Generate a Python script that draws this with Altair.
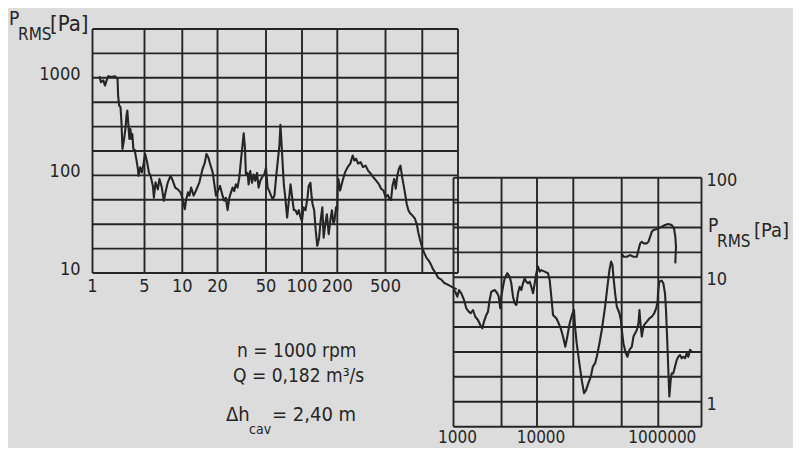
import altair as alt
import pandas as pd

# ---------------- data ----------------
left_xgrid = [1, 5, 10, 20, 50, 100, 200, 500, 1000, 2000]
left_ygrid = [10, 17.78, 31.62, 56.23, 100, 177.8, 316.2, 562.3, 1000, 1778, 3162.3]
right_xgrid = [1000, 3760, 10000, 39700, 249000, 1000000, 5000000]
right_ygrid = [0.631, 1, 1.585, 2.512, 3.981, 6.31, 10, 17.78, 31.62, 56.23, 100]

left_xticks = [1, 5, 10, 20, 50, 100, 200, 500]
left_xlabels = ["1", "5", "10", "20", "50", "100", "200", "500"]
left_yticks = [1000, 100, 10]
left_ylabels = ["1000", "100", "10"]
right_xticks = [1000, 10000, 1000000]
right_xlabels = ["1000", "10000", "1000000"]
right_yticks = [100, 10, 1]
right_ylabels = ["100", "10", "1"]

# spectrum, left panel (frequency, P_RMS)
left_curve_a = [
    (1.24, 1040), (1.30, 902), (1.40, 940), (1.47, 833), (1.55, 940), (1.63, 1040),
    (1.81, 1016), (2.0, 1040), (2.17, 977), (2.21, 658), (2.28, 520), (2.38, 500),
    (2.45, 351), (2.53, 187), (2.66, 236), (2.77, 299), (2.86, 410), (2.94, 462),
    (3.04, 324), (3.13, 236), (3.23, 299), (3.33, 236), (3.43, 266), (3.54, 187),
    (3.68, 184), (3.88, 147), (4.08, 116), (4.16, 99), (4.38, 121), (4.61, 107),
    (4.85, 131), (5.06, 166), (5.25, 136), (5.42, 107), (5.59, 99), (5.83, 78),
    (5.94, 59), (6.12, 85), (6.39, 72), (6.58, 92), (6.87, 75), (7.13, 55),
    (7.44, 72), (7.67, 85), (8.05, 99), (8.41, 88), (8.78, 75), (9.21, 72),
    (9.68, 67), (10.1, 57), (10.5, 45), (10.8, 57), (11.2, 67), (11.5, 62),
    (11.9, 75), (12.5, 62), (13.1, 70), (14.0, 85), (14.9, 116), (15.6, 136),
    (16.1, 166), (16.7, 153), (17.3, 131), (18.2, 107), (18.7, 85), (19.4, 62),
]
left_curve_b = [
    (21.0, 78), (22.0, 62), (22.7, 55), (23.4, 59), (24.2, 44), (25.0, 59),
    (25.8, 67), (26.6, 75), (27.4, 69), (28.3, 81), (29.2, 75), (30.2, 95),
    (31.1, 140), (32.1, 206), (32.8, 270), (33.6, 191), (34.2, 102), (35.3, 106),
    (36.0, 81), (37.1, 111), (38.4, 84), (39.6, 102), (40.8, 88), (42.2, 106),
    (43.5, 75), (44.9, 88), (46.9, 98), (48.4, 102), (50, 120), (51.6, 75),
    (53.3, 69), (55.1, 62), (56.9, 57), (58.8, 62), (60.7, 95), (62.7, 140),
    (64.8, 206), (66.0, 329), (67.3, 223), (68.7, 140), (70.5, 81), (72.7, 57),
    (75.1, 37), (77.6, 55), (80.2, 81), (82.8, 59), (85.5, 44), (88.3, 44),
    (91.2, 40), (94.2, 44), (97.3, 37), (100, 34), (103, 47), (107, 44),
    (111, 57), (114, 78), (118, 84), (121, 59), (123, 51), (127, 44),
    (131, 27), (135, 19), (140, 23), (144, 34), (149, 47), (153, 23),
    (158, 32), (163, 40), (169, 25), (174, 34), (180, 44), (185, 32),
    (189, 34), (195, 47), (200, 44),
]
left_curve_c = [
    (201, 68), (204, 92), (211, 70), (220, 86), (232, 108), (244, 122),
    (256, 132), (268, 160), (277, 142), (286, 148), (297, 132), (311, 137),
    (326, 122), (343, 126), (359, 112), (378, 104), (396, 96), (417, 89),
    (439, 82), (460, 73), (481, 70), (500, 60), (522, 63), (538, 58),
    (555, 56), (571, 79), (589, 92), (607, 73), (625, 100), (644, 117),
    (663, 126), (684, 96), (704, 79), (726, 63), (748, 50), (770, 44),
    (794, 41), (828, 39), (871, 36), (905, 31), (927, 26), (957, 22),
    (1000, 18), (1040, 16), (1088, 14.2), (1138, 13.3), (1183, 12.2), (1238, 10.8),
    (1296, 10), (1365, 8.9), (1438, 8.6), (1535, 7.9), (1637, 7.6), (1746, 7.3),
    (1862, 7.0), (1950, 6.8),
]

# spectrum, right panel
right_curve = [
    (1000, 7.9), (1051, 7.66), (1111, 6.98), (1164, 7.9), (1240, 7.44), (1336, 6.58),
    (1423, 5.64), (1520, 5.29), (1606, 5.14), (1713, 5.46), (1825, 4.82), (1964, 4.54),
    (2094, 4.14), (2213, 3.89), (2317, 4.40), (2471, 4.98), (2588, 5.29), (2711, 6.58),
    (2837, 7.66), (3112, 7.9), (3347, 7.44), (3477, 6.98), (3634, 5.64), (3735, 6.98),
    (3915, 8.4), (4100, 9.8), (4406, 11.0), (4709, 10.1), (4922, 8.95), (5160, 6.98),
    (5409, 6.18), (5655, 5.99), (5919, 7.44), (6201, 8.4), (6486, 7.9), (6796, 8.95),
    (7120, 9.8), (7449, 9.22), (7804, 8.95), (8175, 9.22), (8551, 8.4), (8966, 7.44),
    (9393, 8.95), (9820, 11.0), (10380, 12.8), (11090, 11.4), (11780, 11.8), (13400, 11.4),
    (15180, 11.0), (16190, 9.5), (17210, 6.98), (18370, 4.98), (19590, 4.82), (20800, 4.68),
    (22190, 4.40), (24600, 3.89), (26850, 3.34), (29300, 2.77), (31620, 3.34), (34600, 4.27),
    (37760, 4.98), (40740, 5.46), (42400, 4.01), (45160, 2.94), (49890, 2.04), (54660, 1.49),
    (59720, 1.17), (64400, 1.24), (70300, 1.41), (77100, 1.59), (83200, 1.91), (90800, 2.04),
    (96800, 2.30), (106900, 2.94), (117000, 3.77), (132700, 5.81), (144900, 8.4), (156400, 11.8),
    (166700, 14.4), (175400, 13.3), (182100, 10.1), (194200, 7.44), (207000, 5.81), (228600, 5.14),
    (241000, 4.54), (250400, 3.77), (266300, 2.94), (291500, 2.45), (309800, 2.30), (334300, 2.61),
    (366300, 2.77), (389300, 3.34), (415000, 3.55), (442600, 3.77), (470700, 4.27), (488700, 5.46),
    (508000, 4.27), (535400, 3.34), (556000, 3.77), (584600, 4.14), (647400, 4.40), (714500, 4.68),
    (783300, 4.82), (856400, 5.14), (924700, 5.64), (972700, 6.37), (997000, 7.9), (1038000, 9.22),
    (1135000, 9.4), (1205000, 8.95), (1283000, 7.44), (1333000, 5.46), (1400000, 2.94), (1453000, 1.80),
    (1508000, 1.10), (1586000, 1.49), (1648000, 1.69), (1750000, 1.69), (1863000, 1.91), (1985000, 2.16),
    (2108000, 2.30), (2245000, 2.37), (2392000, 2.23), (2541000, 2.30), (2705000, 2.23), (2882000, 2.45),
    (3060000, 2.30), (3260000, 2.61), (3470000, 2.53),
]
right_upper = [
    (250400, 17.4), (266300, 16.1), (302700, 16.1), (343000, 16.7), (389300, 16.1),
    (442600, 16.1), (470700, 18.8), (502300, 21.9), (535400, 22.8), (569000, 21.9),
    (647400, 21.9), (688600, 22.8), (734500, 25.6), (783300, 28.7), (832000, 29.8),
    (924700, 30.3), (1000000, 31.0), (1135000, 32.2), (1283000, 33.5), (1453000, 34.3),
    (1648000, 33.5), (1795000, 31.0), (1884000, 25.6), (1932000, 20.3), (1884000, 13.8),
]

texts = {
    "p": "P", "rms": "RMS", "pa": "[Pa]",
    "n": "n = 1000 rpm", "q": "Q = 0,182 m³/s",
    "dh": "Δh", "cav": "cav", "h": "= 2,40 m",
}

# ---------------- style ----------------
INK = "#252525"
PAPER = "#dcdcdc"
FONT = "'DejaVu Sans Condensed', 'DejaVu Sans', sans-serif"

LX = alt.Scale(type="log", domain=left_xgrid,
               range=[84.5, 136.5, 174.3, 209.5, 258, 294, 329.3, 377.5, 414.3, 450], nice=False)
LY = alt.Scale(type="log", domain=[10, 3162.3], range=[265, 21], nice=False)
RX = alt.Scale(type="log", domain=[1000, 10000, 1000000, 5000000],
               range=[445.5, 529, 650.3, 693.5], nice=False)
RY = alt.Scale(type="log", domain=[0.631, 1, 10, 100],
               range=[418.7, 393.7, 269.3, 169.7], nice=False)


def curve_df(pairs):
    return pd.DataFrame({"f": [p[0] for p in pairs], "p": [p[1] for p in pairs],
                         "i": list(range(len(pairs)))})


def vrules(vals, y0, y1, sx, sy):
    df = pd.DataFrame({"v": vals, "a": y0, "b": y1})
    return alt.Chart(df).mark_rule(color=INK, strokeWidth=1.9).encode(
        x=alt.X("v:Q", scale=sx, axis=None),
        y=alt.Y("a:Q", scale=sy, axis=None),
        y2="b:Q",
    )


def hrules(vals, x0, x1, sx, sy):
    df = pd.DataFrame({"v": vals, "a": x0, "b": x1})
    return alt.Chart(df).mark_rule(color=INK, strokeWidth=1.9).encode(
        y=alt.Y("v:Q", scale=sy, axis=None),
        x=alt.X("a:Q", scale=sx, axis=None),
        x2="b:Q",
    )


def line(pairs, sx, sy):
    return alt.Chart(curve_df(pairs)).mark_line(color=INK, strokeWidth=2.1,
                                                strokeJoin="round").encode(
        x=alt.X("f:Q", scale=sx, axis=None),
        y=alt.Y("p:Q", scale=sy, axis=None),
        order="i:Q",
    )


def ticklabels(xs, ys, labels, sx, sy, size=18, **kw):
    df = pd.DataFrame({"x": xs, "y": ys, "t": labels})
    return alt.Chart(df).mark_text(font=FONT, fontSize=size, color=INK, **kw).encode(
        x=alt.X("x:Q", scale=sx, axis=None),
        y=alt.Y("y:Q", scale=sy, axis=None),
        text="t:N",
    )


def txt(key, x, y, size, align="left"):
    return alt.Chart(pd.DataFrame({"t": [texts[key]]})).mark_text(
        font=FONT, fontSize=size, color=INK, align=align, baseline="alphabetic"
    ).encode(x=alt.value(x), y=alt.value(y), text="t:N")


layers = [
    # left panel grid
    vrules(left_xgrid, 10, 3162.3, LX, LY),
    hrules(left_ygrid, 1, 2000, LX, LY),
    # right panel grid
    vrules(right_xgrid, 0.631, 100, RX, RY),
    hrules(right_ygrid, 1000, 5000000, RX, RY),
    # spectra
    line(left_curve_a + left_curve_b + left_curve_c, LX, LY),
    line(right_curve, RX, RY),
    line(right_upper, RX, RY),
    # tick labels
    ticklabels(left_xticks, [10] * len(left_xticks), left_xlabels, LX, LY,
               align="center", baseline="middle", dy=14),
    ticklabels([1] * len(left_yticks), left_yticks, left_ylabels, LX, LY,
               align="right", baseline="middle", dx=-12, dy=-3),
    ticklabels(right_xticks, [0.631] * len(right_xticks), right_xlabels, RX, RY,
               size=17, align="center", baseline="middle", dy=11, dx=4),
    ticklabels([5000000] * len(right_yticks), right_yticks, right_ylabels, RX, RY,
               align="left", baseline="middle", dx=5, dy=3),
    # axis titles
    txt("p", 1, 17, 19),
    txt("rms", 10, 32, 17),
    txt("pa", 42, 23, 22),
    txt("p", 700, 224, 19),
    txt("rms", 709, 239, 17),
    txt("pa", 746, 229, 20),
    # annotations
    txt("n", 229, 349, 19),
    txt("q", 225, 374, 19),
    txt("dh", 218, 413, 20),
    txt("cav", 241, 426, 14),
    txt("h", 264, 413, 20),
]

chart = alt.layer(*layers).resolve_scale(x="independent", y="independent").properties(
    width=785, height=440, autosize=alt.AutoSizeParams(type="none"), padding=0,
    background=PAPER,
).configure_view(stroke=None)

chart.save("out.html", embed_options={"renderer": "svg", "actions": False})
